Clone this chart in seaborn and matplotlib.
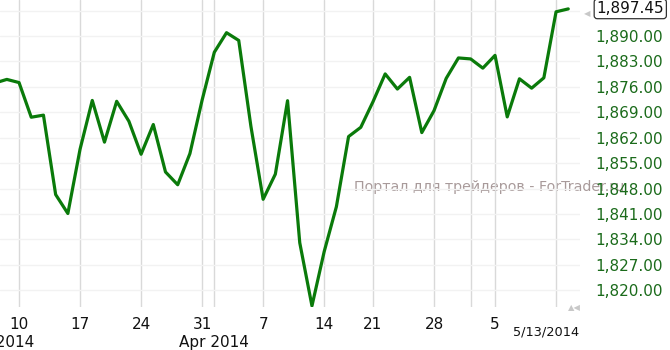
import matplotlib
matplotlib.use("Agg")
import matplotlib.pyplot as plt
import matplotlib.transforms as mtransforms
import seaborn as sns
import pandas as pd

dates = ["2014-03-06", "2014-03-07", "2014-03-10", "2014-03-11", "2014-03-12", "2014-03-13",
         "2014-03-14", "2014-03-17", "2014-03-18", "2014-03-19", "2014-03-20", "2014-03-21",
         "2014-03-24", "2014-03-25", "2014-03-26", "2014-03-27", "2014-03-28", "2014-03-31",
         "2014-04-01", "2014-04-02", "2014-04-03", "2014-04-04", "2014-04-07", "2014-04-08",
         "2014-04-09", "2014-04-10", "2014-04-11", "2014-04-14", "2014-04-15", "2014-04-16",
         "2014-04-17", "2014-04-21", "2014-04-22", "2014-04-23", "2014-04-24", "2014-04-25",
         "2014-04-28", "2014-04-29", "2014-04-30", "2014-05-01", "2014-05-02", "2014-05-05",
         "2014-05-06", "2014-05-07", "2014-05-08", "2014-05-09", "2014-05-12", "2014-05-13"]
closes = [1877.03, 1878.04, 1877.17, 1867.63, 1868.20, 1846.34,
          1841.13, 1858.83, 1872.25, 1860.77, 1872.01, 1866.52,
          1857.44, 1865.62, 1852.56, 1849.04, 1857.62, 1872.34,
          1885.52, 1890.90, 1888.77, 1865.09, 1845.04, 1851.96,
          1872.18, 1833.08, 1815.69, 1830.61, 1842.98, 1862.31,
          1864.85, 1871.89, 1879.55, 1875.39, 1878.61, 1863.40,
          1869.43, 1878.33, 1883.95, 1883.68, 1881.14, 1884.66,
          1867.72, 1878.21, 1875.63, 1878.48, 1896.65, 1897.45]

week_tick_dates = ["2014-03-10", "2014-03-17", "2014-03-24", "2014-03-31", "2014-04-07",
                   "2014-04-14", "2014-04-21", "2014-04-28", "2014-05-05"]
week_tick_labels = ["10", "17", "24", "31", "7", "14", "21", "28", "5"]
minor_grid_dates = ["2014-04-01", "2014-05-01", "2014-05-12"]
month_labels = ["Mar 2014", "Apr 2014"]
month_label_dates = [None, "2014-04-01"]
y_ticks = [1820, 1827, 1834, 1841, 1848, 1855, 1862, 1869, 1876, 1883, 1890, 1897]
last_label = "1,897.45"
date_label = "5/13/2014"
watermark = "Портал для трейдеров - ForTrader.ru"

df = pd.DataFrame({"date": dates, "close": closes})
df["idx"] = range(len(df))
pos = {d: i for i, d in enumerate(dates)}

sns.set_style("white")
plt.rcParams["font.family"] = ["DejaVu Sans"]

fig = plt.figure(figsize=(6.7, 3.5), dpi=100)
ax = fig.add_axes([0.0, 0.123, 0.866, 0.877])

sns.lineplot(data=df, x="idx", y="close", ax=ax, color="#0a7a0a", linewidth=2.3, zorder=3)

ax.set_xlim(0.44, 47.98)
ax.set_ylim(1815.4, 1899.9)

ax.set_xticks([pos[d] for d in week_tick_dates])
ax.set_xticklabels(week_tick_labels, fontsize=11, color="#111111")
ax.set_xticks([pos[d] for d in minor_grid_dates], minor=True)
ax.tick_params(axis="x", which="both", length=0, pad=7)

ax.yaxis.tick_right()
ax.set_yticks(y_ticks)
ax.set_yticklabels(["" if v == 1897 else f"{v:,.2f}" for v in y_ticks],
                   fontsize=11, color="#1b6b1b")
ax.tick_params(axis="y", length=0, pad=11)

ax.grid(axis="x", which="both", color="#d9d9d9", linewidth=1)
ax.grid(axis="y", which="major", color="#f2f2f2", linewidth=1)
for s in ax.spines.values():
    s.set_visible(False)
ax.set_xlabel("")
ax.set_ylabel("")

trans = mtransforms.blended_transform_factory(ax.transData, ax.transAxes)
ax.text(pos[month_label_dates[1]], -0.117, month_labels[1], transform=trans,
        ha="center", va="center", fontsize=11, color="#111111")
ax.text(0.27, -0.117, month_labels[0], transform=trans,
        ha="center", va="center", fontsize=11, color="#111111", clip_on=False)
ax.text(pos[dates[-1]] - 1.8, -0.08, date_label, transform=trans,
        ha="center", va="center", fontsize=9.3, color="#111111")

trans_y = mtransforms.blended_transform_factory(ax.transAxes, ax.transData)
ax.text(1.028, closes[-1], last_label, transform=trans_y, ha="left", va="center",
        fontsize=11, color="#111111",
        bbox=dict(boxstyle="round,pad=0.15,rounding_size=0.2", fc="white", ec="#333333", lw=0.9))
ax.text(1.012, closes[-1] - 1.3, "◀", transform=trans_y, ha="center", va="center",
        fontsize=6, color="#c8c8c8")
ax.text(0.99, -0.002, "▲◀", transform=ax.transAxes, ha="center", va="center",
        fontsize=6, color="#c8c8c8")

ax.text(0.61, 1848.4, watermark, transform=trans_y, ha="left", va="center",
        fontsize=10.3, color="#a89a9a", clip_on=False, zorder=0.5)

fig.savefig("out.png", dpi=100)
